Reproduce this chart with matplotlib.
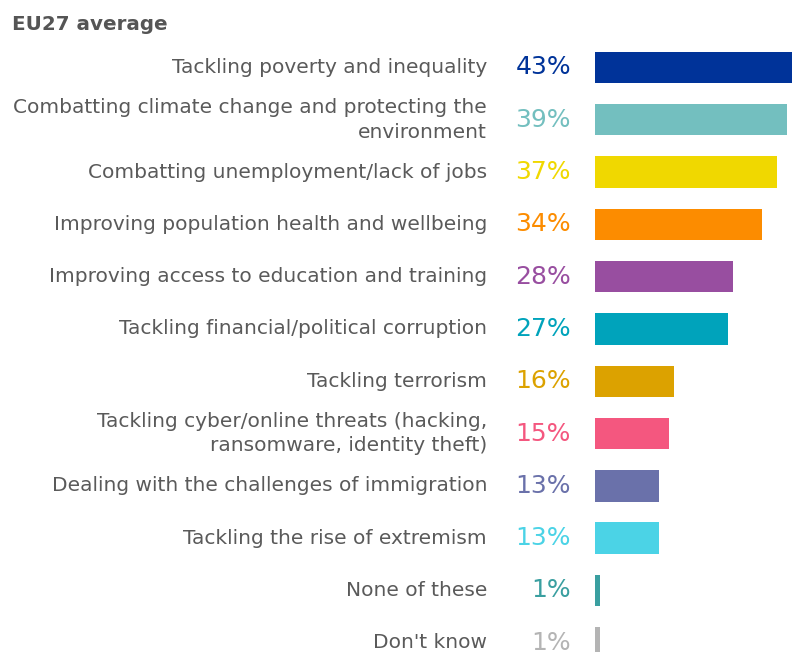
import matplotlib
matplotlib.use("Agg")
import matplotlib.pyplot as plt
from matplotlib.transforms import blended_transform_factory

# Data
labels = [
    "Tackling poverty and inequality",
    "Combatting climate change and protecting the\nenvironment",
    "Combatting unemployment/lack of jobs",
    "Improving population health and wellbeing",
    "Improving access to education and training",
    "Tackling financial/political corruption",
    "Tackling terrorism",
    "Tackling cyber/online threats (hacking,\nransomware, identity theft)",
    "Dealing with the challenges of immigration",
    "Tackling the rise of extremism",
    "None of these",
    "Don't know",
]
values = [43, 39, 37, 34, 28, 27, 16, 15, 13, 13, 1, 1]
colors = [
    "#003399", "#73bfbf", "#f0d800", "#fc8c00", "#984ea0", "#00a3bb",
    "#dca200", "#f4577f", "#6a71aa", "#4bd3e6", "#3a9fa0", "#b4b4b4",
]
title = "EU27 average"

W, H = 792, 652
fig = plt.figure(figsize=(W / 100, H / 100), dpi=100)

# axes for bars: from x=595px to the right edge, rows 52.3px apart
top_px = 41.3
ax = fig.add_axes([595 / W, 0, 1 - 595 / W, 1 - top_px / H])
y = list(range(len(values)))
ax.barh(y, values, height=0.6, color=colors)
ax.set_xlim(0, 40)
ax.set_ylim(-0.5 + (H - top_px) / 52.3, -0.5)
ax.axis("off")

tr = blended_transform_factory(fig.transFigure, ax.transData)
for i, (lab, v, c) in enumerate(zip(labels, values, colors)):
    ax.text(487 / W, i, lab, transform=tr, ha="right", va="center",
            fontsize=14.5, color="#5a5a5a", linespacing=1.38, clip_on=False)
    ax.text(571 / W, i, f"{v}%", transform=tr, ha="right", va="center",
            fontsize=18, color=c, clip_on=False)

fig.text(12 / W, 1 - 25 / H, title, ha="left", va="center",
         fontsize=14.3, fontweight="bold", color="#555555")

fig.savefig("out.png", dpi=100)
